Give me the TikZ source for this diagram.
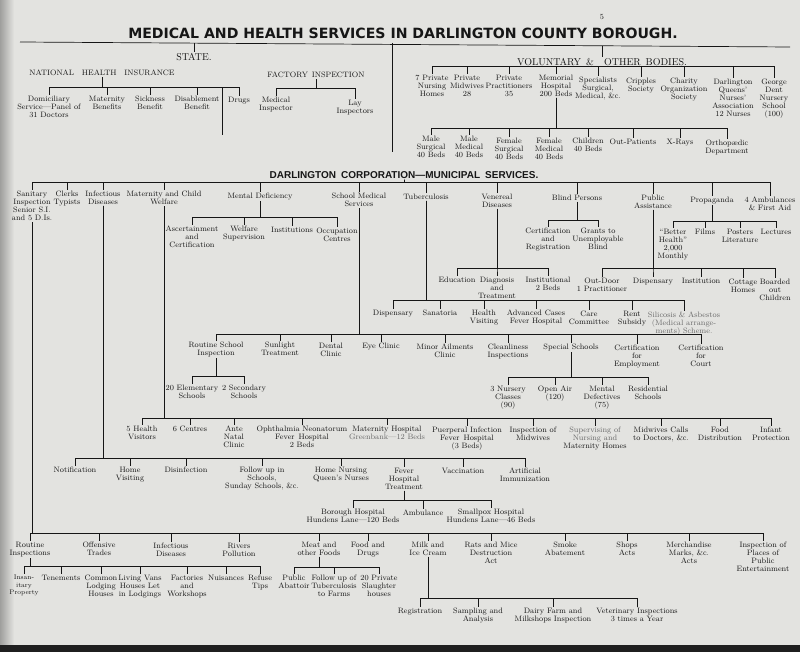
\documentclass[tikz,border=0pt]{standalone}
\usepackage{fontspec}
\newfontfamily\titlefont{DejaVu Sans}
\newfontfamily\munifont{Liberation Sans}
\definecolor{ink}{RGB}{22,22,22}
\definecolor{faint}{RGB}{105,105,105}
\definecolor{paper}{RGB}{227,227,224}
\tikzset{
  lab/.style={anchor=north,align=center,inner sep=1pt,text=ink,font=\fontsize{7.8}{8}\selectfont},
  heading/.style={inner sep=1pt,text=ink,font=\fontsize{10}{10}\selectfont},
  wire/.style={draw=ink,line width=0.5pt},
}
\newcommand\subtree[3]{\foreach \kid in {#3}{\draw[wire] (#1.south) -- (#1.south |- 0,#2) -| (\kid.north);}}

\begin{document}
\begin{tikzpicture}[x=1pt,y=-1pt]
  \fill[paper] (0,0) rectangle (800,652);
  \useasboundingbox (0,0) rectangle (800,652);
  \shade[left color=black!30!paper,right color=paper] (0,0) rectangle (14,645);
  \fill[black!88] (0,645) rectangle (800,652);

  \node[lab,anchor=center] (pageno) at (602,17) {5};
  \node[text=ink,inner sep=1pt,font=\titlefont\bfseries\fontsize{14.1}{14}\selectfont] (title) at (403,33)
    {MEDICAL AND HEALTH SERVICES IN DARLINGTON COUNTY BOROUGH.};
  \draw[wire,line width=0.7pt] (20,42) -- (790,47);
  \draw[wire] (392,43) -- (392,152);
  \draw[wire] (222,88) -- (222,135);

  % state
  \node[heading] (state) at (194,57) {STATE.};
  \draw[wire] (state.north |- 0,43) -- (state.north);
  \node[lab,anchor=center] (nhi) at (102,73) {NATIONAL\quad HEALTH\quad INSURANCE};
  \node[lab] (dom) at (49,95) {Domiciliary\\Service\textemdash Panel of\\31 Doctors};
  \node[lab] (matben) at (107,95) {Maternity\\Benefits};
  \node[lab] (sick) at (150,95) {Sickness\\Benefit};
  \node[lab] (disab) at (197,95) {Disablement\\Benefit};
  \node[lab] (drugs) at (239,96) {Drugs};
  \subtree{nhi}{87}{dom,matben,sick,disab,drugs}
  \node[lab,anchor=center] (factory) at (316,75) {FACTORY\enskip INSPECTION};
  \node[lab] (medinsp) at (276,96) {Medical\\Inspector};
  \node[lab] (lay) at (355,99) {Lay\\Inspectors};
  \subtree{factory}{88}{medinsp,lay}

  % voluntary
  \node[heading] (vol) at (602,62) {VOLUNTARY\enskip\&\quad OTHER\enskip BODIES.};
  \draw[wire] (vol.north |- 0,46) -- (vol.north);
  \node[lab] (nursing) at (432,74) {7 Private\\Nursing\\Homes};
  \node[lab] (midw) at (467,74) {Private\\Midwives\\28};
  \node[lab] (pract) at (509,74) {Private\\Practitioners\\35};
  \node[lab] (memorial) at (556,74) {Memorial\\Hospital\\200 Beds};
  \node[lab] (spec) at (598,76) {Specialists\\Surgical,\\Medical, \&c.};
  \node[lab] (cripples) at (641,77) {Cripples\\Society};
  \node[lab] (charity) at (684,77) {Charity\\Organization\\Society};
  \node[lab] (queens) at (733,78) {Darlington\\Queens'\\Nurses'\\Association\\12 Nurses};
  \node[lab] (dent) at (774,78) {George\\Dent\\Nursery\\School\\(100)};
  \subtree{vol}{66}{nursing,midw,pract,memorial,spec,cripples,charity,queens,dent}
  \node[lab] (msurg) at (431,135) {Male\\Surgical\\40 Beds};
  \node[lab] (mmed) at (469,135) {Male\\Medical\\40 Beds};
  \node[lab] (fsurg) at (509,137) {Female\\Surgical\\40 Beds};
  \node[lab] (fmed) at (549,137) {Female\\Medical\\40 Beds};
  \node[lab] (child) at (588,137) {Children\\40 Beds};
  \node[lab] (outp) at (633,138) {Out-Patients};
  \node[lab] (xray) at (680,138) {X-Rays};
  \node[lab] (ortho) at (727,139) {Orthop\ae dic\\Department};
  \subtree{memorial}{128}{msurg,mmed,fsurg,fmed,child,outp,xray,ortho}

  % municipal
  \node[text=ink,inner sep=1pt,font=\munifont\bfseries\fontsize{10}{10}\selectfont] (muni) at (404,175)
    {DARLINGTON\enskip CORPORATION\textemdash MUNICIPAL\enskip SERVICES.};
  \node[lab] (sanit) at (32,190) {Sanitary\\Inspection\\Senior S.I.\\and 5 D.Is.};
  \node[lab] (clerks) at (67,190) {Clerks\\Typists};
  \node[lab] (infect) at (103,190) {Infectious\\Diseases};
  \node[lab] (mcw) at (164,190) {Maternity and Child\\Welfare};
  \node[lab] (mental) at (260,192) {Mental Deficiency};
  \node[lab] (school) at (359,192) {School Medical\\Services};
  \node[lab] (tb) at (426,193) {Tuberculosis};
  \node[lab] (vd) at (497,193) {Venereal\\Diseases};
  \node[lab] (blind) at (577,194) {Blind Persons};
  \node[lab] (pubassist) at (653,194) {Public\\Assistance};
  \node[lab] (propag) at (712,196) {Propaganda};
  \node[lab] (ambul) at (770,196) {4 Ambulances\\\& First Aid};
  \subtree{muni}{182}{sanit,clerks,infect,mcw,mental,school,tb,vd,blind,pubassist,propag,ambul}

  \node[lab] (ascert) at (192,225) {Ascertainment\\and\\Certification};
  \node[lab] (welf) at (244,225) {Welfare\\Supervision};
  \node[lab] (instit) at (292,226) {Institutions};
  \node[lab] (occup) at (337,227) {Occupation\\Centres};
  \subtree{mental}{217}{ascert,welf,instit,occup}
  \node[lab] (bcert) at (548,227) {Certification\\and\\Registration};
  \node[lab] (grants) at (598,227) {Grants to\\Unemployable\\Blind};
  \subtree{blind}{220}{bcert,grants}
  \node[lab] (better) at (673,228) {``Better\\Health''\\2,000\\Monthly};
  \node[lab] (films) at (705,228) {Films};
  \node[lab] (posters) at (740,228) {Posters\\Literature};
  \node[lab] (lectures) at (776,228) {Lectures};
  \subtree{propag}{221}{better,films,posters,lectures}
  \node[lab] (educ) at (457,276) {Education};
  \node[lab] (diag) at (497,276) {Diagnosis\\and\\Treatment};
  \node[lab] (instb) at (548,276) {Institutional\\2 Beds};
  \subtree{vd}{268}{educ,diag,instb}
  \node[lab] (outdoor) at (602,277) {Out-Door\\1 Practitioner};
  \node[lab] (pdisp) at (653,277) {Dispensary};
  \node[lab] (pinst) at (701,277) {Institution};
  \node[lab] (cottage) at (743,278) {Cottage\\Homes};
  \node[lab] (boarded) at (775,278) {Boarded\\out\\Children};
  \subtree{pubassist}{268}{outdoor,pdisp,pinst,cottage,boarded}
  \node[lab] (tdisp) at (393,309) {Dispensary};
  \node[lab] (sanat) at (440,309) {Sanatoria};
  \node[lab] (hvis) at (484,309) {Health\\Visiting};
  \node[lab] (adv) at (536,309) {Advanced Cases\\Fever Hospital};
  \node[lab] (care) at (589,310) {Care\\Committee};
  \node[lab] (rent) at (632,310) {Rent\\Subsidy};
  \node[lab,text=faint] (silic) at (684,311) {Silicosis \& Asbestos\\(Medical arrange-\\ments) Scheme.};
  \subtree{tb}{300}{tdisp,sanat,hvis,adv,care,rent,silic}

  \node[lab] (routine) at (216,341) {Routine School\\Inspection};
  \node[lab] (sun) at (280,341) {Sunlight\\Treatment};
  \node[lab] (dental) at (331,342) {Dental\\Clinic};
  \node[lab] (eye) at (381,342) {Eye Clinic};
  \node[lab] (minor) at (445,343) {Minor Ailments\\Clinic};
  \node[lab] (clean) at (508,343) {Cleanliness\\Inspections};
  \node[lab] (special) at (571,343) {Special Schools};
  \node[lab] (certemp) at (637,344) {Certification\\for\\Employment};
  \node[lab] (certcourt) at (701,344) {Certification\\for\\Court};
  \subtree{school}{334}{routine,sun,dental,eye,minor,clean,special,certemp,certcourt}
  \node[lab] (elem) at (192,384) {20 Elementary\\Schools};
  \node[lab] (second) at (244,384) {2 Secondary\\Schools};
  \subtree{routine}{376}{elem,second}
  \node[lab] (nursery) at (508,385) {3 Nursery\\Classes\\(90)};
  \node[lab] (openair) at (555,385) {Open Air\\(120)};
  \node[lab] (mentdef) at (602,385) {Mental\\Defectives\\(75)};
  \node[lab] (resid) at (648,385) {Residential\\Schools};
  \subtree{special}{377}{nursery,openair,mentdef,resid}

  \node[lab] (hv5) at (142,425) {5 Health\\Visitors};
  \node[lab] (centres) at (190,425) {6 Centres};
  \node[lab] (ante) at (234,425) {Ante\\Natal\\Clinic};
  \node[lab] (ophth) at (302,425) {Ophthalmia Neonatorum\\Fever\enskip Hospital\\2 Beds};
  \node[lab] (mathosp) at (387,425) {Maternity Hospital\\\textcolor{faint}{Greenbank\textemdash 12 Beds}};
  \node[lab] (puerp) at (467,426) {Puerperal Infection\\Fever\enskip Hospital\\(3 Beds)};
  \node[lab] (inspmid) at (533,426) {Inspection of\\Midwives};
  \node[lab] (superv) at (595,426) {\textcolor{faint}{Supervising of}\\\textcolor{faint}{Nursing and}\\Maternity Homes};
  \node[lab] (mcalls) at (661,426) {Midwives Calls\\to Doctors, \&c.};
  \node[lab] (food) at (720,426) {Food\\Distribution};
  \node[lab] (infant) at (771,426) {Infant\\Protection};
  \subtree{mcw}{418}{hv5,centres,ante,ophth,mathosp,puerp,inspmid,superv,mcalls,food,infant}

  \node[lab] (notif) at (75,466) {Notification};
  \node[lab] (homevis) at (130,466) {Home\\Visiting};
  \node[lab] (disinf) at (186,466) {Disinfection};
  \node[lab] (follow) at (262,466) {Follow up in\\Schools,\\Sunday Schools, \&c.};
  \node[lab] (homenurs) at (341,466) {Home Nursing\\Queen's Nurses};
  \node[lab] (fever) at (404,467) {Fever\\Hospital\\Treatment};
  \node[lab] (vacc) at (463,467) {Vaccination};
  \node[lab] (artif) at (525,467) {Artificial\\Immunization};
  \subtree{infect}{458}{notif,homevis,disinf,follow,homenurs,fever,vacc,artif}
  \node[lab] (borough) at (353,508) {Borough Hospital\\Hundens Lane\textemdash 120 Beds};
  \node[lab] (ambulance) at (423,509) {Ambulance};
  \node[lab] (smallpox) at (491,508) {Smallpox Hospital\\Hundens Lane\textemdash 46 Beds};
  \subtree{fever}{500}{borough,ambulance,smallpox}

  \node[lab] (rinsp) at (30,541) {Routine\\Inspections};
  \node[lab] (offens) at (99,541) {Offensive\\Trades};
  \node[lab] (infd) at (171,542) {Infectious\\Diseases};
  \node[lab] (rivers) at (239,542) {Rivers\\Pollution};
  \node[lab] (meat) at (319,541) {Meat and\\other Foods};
  \node[lab] (fooddr) at (368,541) {Food and\\Drugs};
  \node[lab] (milk) at (428,541) {Milk and\\Ice Cream};
  \node[lab] (rats) at (491,541) {Rats and Mice\\Destruction\\Act};
  \node[lab] (smoke) at (565,541) {Smoke\\Abatement};
  \node[lab] (shops) at (627,541) {Shops\\Acts};
  \node[lab] (merch) at (689,541) {Merchandise\\Marks, \&c.\\Acts};
  \node[lab] (places) at (763,541) {Inspection of\\Places of\\Public\\Entertainment};
  \subtree{sanit}{533}{rinsp,offens,infd,rivers,meat,fooddr,milk,rats,smoke,shops,merch,places}
  \node[lab,font=\fontsize{6.6}{7.6}\selectfont] (insan) at (24,574) {Insan-\\itary\\Property};
  \node[lab] (tenem) at (61,574) {Tenements};
  \node[lab] (common) at (101,574) {Common\\Lodging\\Houses};
  \node[lab] (vans) at (140,574) {Living Vans\\Houses Let\\in Lodgings};
  \node[lab] (factories) at (187,574) {Factories\\and\\Workshops};
  \node[lab] (nuis) at (226,574) {Nuisances};
  \node[lab] (refuse) at (260,574) {Refuse\\Tips};
  \subtree{rinsp}{566}{insan,tenem,common,vans,factories,nuis,refuse}
  \node[lab] (abatt) at (294,574) {Public\\Abattoir};
  \node[lab] (tubfarm) at (334,574) {Follow up of\\Tuberculosis\\to Farms};
  \node[lab] (slaught) at (379,574) {20 Private\\Slaughter\\houses};
  \subtree{meat}{567}{abatt,tubfarm,slaught}
  \node[lab] (regist) at (420,607) {Registration};
  \node[lab] (sampl) at (478,607) {Sampling and\\Analysis};
  \node[lab] (dairy) at (553,607) {Dairy Farm and\\Milkshops Inspection};
  \node[lab] (vet) at (637,607) {Veterinary Inspections\\3 times a Year};
  \subtree{milk}{598}{regist,sampl,dairy,vet}
\end{tikzpicture}
\end{document}
